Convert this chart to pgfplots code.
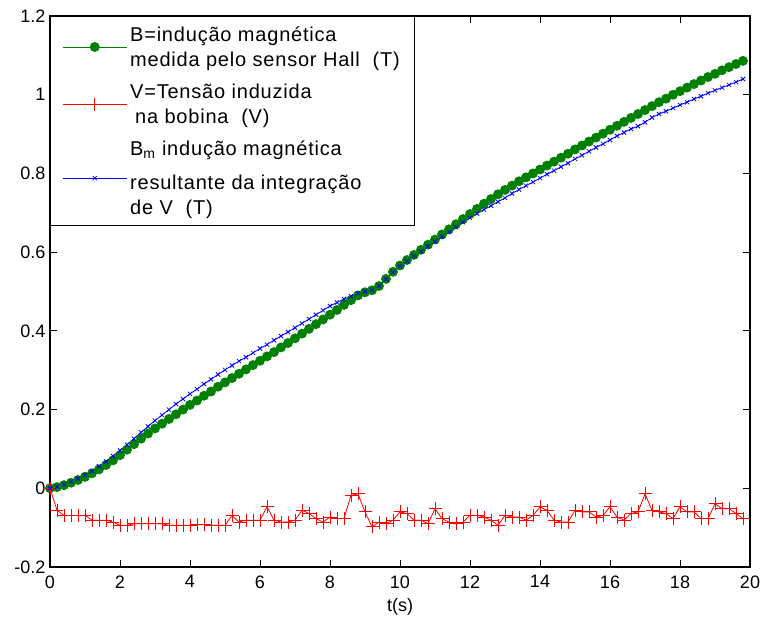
\documentclass[border=0pt]{standalone}
\usepackage{fontspec}
\setmainfont{Liberation Sans}
\newfontfamily\legfont[LetterSpace=4]{Liberation Sans}
\usepackage{pgfplots}
\pgfplotsset{compat=1.18}
\usepackage{pgfplotstable}
\definecolor{mgreen}{RGB}{0,128,0}

\pgfplotstableread{
t B V Bm
0.0 0.000 0.000 0.000
0.2 0.003 -0.056 0.004
0.4 0.008 -0.069 0.010
0.6 0.014 -0.069 0.017
0.8 0.021 -0.069 0.025
1.0 0.029 -0.069 0.034
1.2 0.038 -0.081 0.044
1.4 0.048 -0.081 0.056
1.6 0.059 -0.081 0.068
1.8 0.071 -0.086 0.082
2.0 0.084 -0.094 0.096
2.2 0.098 -0.094 0.111
2.4 0.112 -0.090 0.126
2.6 0.126 -0.090 0.142
2.8 0.139 -0.090 0.157
3.0 0.152 -0.090 0.172
3.2 0.164 -0.090 0.186
3.4 0.176 -0.094 0.200
3.6 0.188 -0.094 0.214
3.8 0.200 -0.094 0.227
4.0 0.212 -0.094 0.240
4.2 0.223 -0.092 0.252
4.4 0.235 -0.092 0.265
4.6 0.246 -0.094 0.277
4.8 0.258 -0.094 0.289
5.0 0.269 -0.094 0.301
5.2 0.280 -0.069 0.312
5.4 0.291 -0.086 0.323
5.6 0.302 -0.081 0.333
5.8 0.313 -0.081 0.344
6.0 0.324 -0.081 0.355
6.2 0.335 -0.047 0.365
6.4 0.346 -0.081 0.376
6.6 0.358 -0.086 0.387
6.8 0.369 -0.086 0.397
7.0 0.381 -0.081 0.408
7.2 0.393 -0.056 0.419
7.4 0.405 -0.064 0.430
7.6 0.417 -0.077 0.441
7.8 0.429 -0.086 0.452
8.0 0.441 -0.073 0.463
8.2 0.453 -0.077 0.472
8.4 0.466 -0.077 0.481
8.6 0.478 -0.018 0.488
8.8 0.490 -0.014 0.496
9.0 0.498 -0.060 0.500
9.2 0.503 -0.098 0.504
9.4 0.514 -0.086 0.514
9.6 0.532 -0.090 0.531
9.8 0.550 -0.081 0.549
10.0 0.566 -0.060 0.564
10.2 0.580 -0.064 0.577
10.4 0.593 -0.081 0.590
10.6 0.606 -0.081 0.602
10.8 0.619 -0.090 0.615
11.0 0.632 -0.052 0.627
11.2 0.645 -0.077 0.639
11.4 0.658 -0.086 0.651
11.6 0.671 -0.090 0.663
11.8 0.684 -0.086 0.676
12.0 0.697 -0.069 0.687
12.2 0.710 -0.069 0.698
12.4 0.723 -0.073 0.708
12.6 0.735 -0.081 0.718
12.8 0.747 -0.094 0.728
13.0 0.758 -0.069 0.738
13.2 0.769 -0.073 0.749
13.4 0.780 -0.073 0.759
13.6 0.790 -0.081 0.769
13.8 0.800 -0.069 0.778
14.0 0.810 -0.047 0.788
14.2 0.820 -0.056 0.798
14.4 0.830 -0.081 0.807
14.6 0.840 -0.086 0.817
14.8 0.850 -0.086 0.826
15.0 0.861 -0.056 0.837
15.2 0.871 -0.060 0.846
15.4 0.881 -0.060 0.856
15.6 0.891 -0.073 0.866
15.8 0.901 -0.069 0.875
16.0 0.911 -0.047 0.885
16.2 0.921 -0.073 0.895
16.4 0.931 -0.081 0.904
16.6 0.941 -0.064 0.913
16.8 0.951 -0.060 0.920
17.0 0.961 -0.014 0.930
17.2 0.971 -0.056 0.942
17.4 0.981 -0.060 0.951
17.6 0.990 -0.064 0.958
17.8 1.000 -0.077 0.966
18.0 1.009 -0.047 0.974
18.2 1.018 -0.060 0.981
18.4 1.027 -0.060 0.989
18.6 1.036 -0.077 0.996
18.8 1.045 -0.077 1.004
19.0 1.053 -0.039 1.011
19.2 1.062 -0.052 1.018
19.4 1.070 -0.052 1.025
19.6 1.078 -0.064 1.032
19.8 1.086 -0.077 1.040
}\data

\begin{document}
\begin{tikzpicture}
\begin{axis}[
  width=700pt, height=551pt, scale only axis,
  xmin=0, xmax=20, ymin=-0.2, ymax=1.2,
  xtick={0,2,4,6,8,10,12,14,16,18,20},
  ytick={-0.2,0,0.2,0.4,0.6,0.8,1,1.2},
  tick align=inside, tick pos=both,
  major tick length=7pt,
  axis line style={line width=1.2pt, black},
  tick style={line width=0.8pt, black},
  /pgf/number format/assume math mode=true,
  yticklabel style={/pgf/number format/fixed, /pgf/number format/precision=1, xshift=-1pt},
  xticklabel style={yshift=-5pt},
  tick label style={font=\fontsize{18}{18}\selectfont},
  xlabel={t(s)},
  xlabel style={font=\fontsize{18}{18}\selectfont, at={(axis description cs:0.5,0)}, anchor=center, yshift=-40pt},
  legend image code/.code={\draw[mark repeat=2,mark phase=2,#1] plot coordinates {(0pt,0pt) (32pt,0pt) (64pt,0pt)};},
  legend style={at={(0,1)}, anchor=north west, draw=black, line width=0.7pt, fill=white,
    font=\legfont\fontsize{20}{25}\selectfont, legend cell align=left,
    nodes={align=left, inner ysep=8pt, inner xsep=3pt},
    inner xsep=12pt, inner ysep=2pt},
]
\addplot[color=mgreen, draw=mgreen, line width=0.8pt, mark=*, mark size=4.5pt, mark options={fill=mgreen, draw=mgreen}] table[x=t, y=B] {\data};
\addlegendentry{B=indução magnética\\medida pelo sensor Hall\ \ (T)}
\addplot[color=red, draw=red, line width=0.8pt, mark=+, mark size=6.5pt, mark options={draw=red}] table[x=t, y=V] {\data};
\addlegendentry{V=Tensão induzida\\\hspace{5pt}na bobina\ \ (V)}
\addplot[color=blue, draw=blue, line width=0.8pt, mark=x, mark size=3pt, mark options={draw=blue}] table[x=t, y=Bm] {\data};
\addlegendentry{B\textsubscript{m} indução magnética\\[9pt]resultante da integração\\de V\ \ (T)}
\end{axis}
\pgfresetboundingbox
\path ([shift={(-50pt,-59pt)}]current axis.south west) rectangle ([shift={(13pt,16pt)}]current axis.north east);
\end{tikzpicture}
\end{document}
